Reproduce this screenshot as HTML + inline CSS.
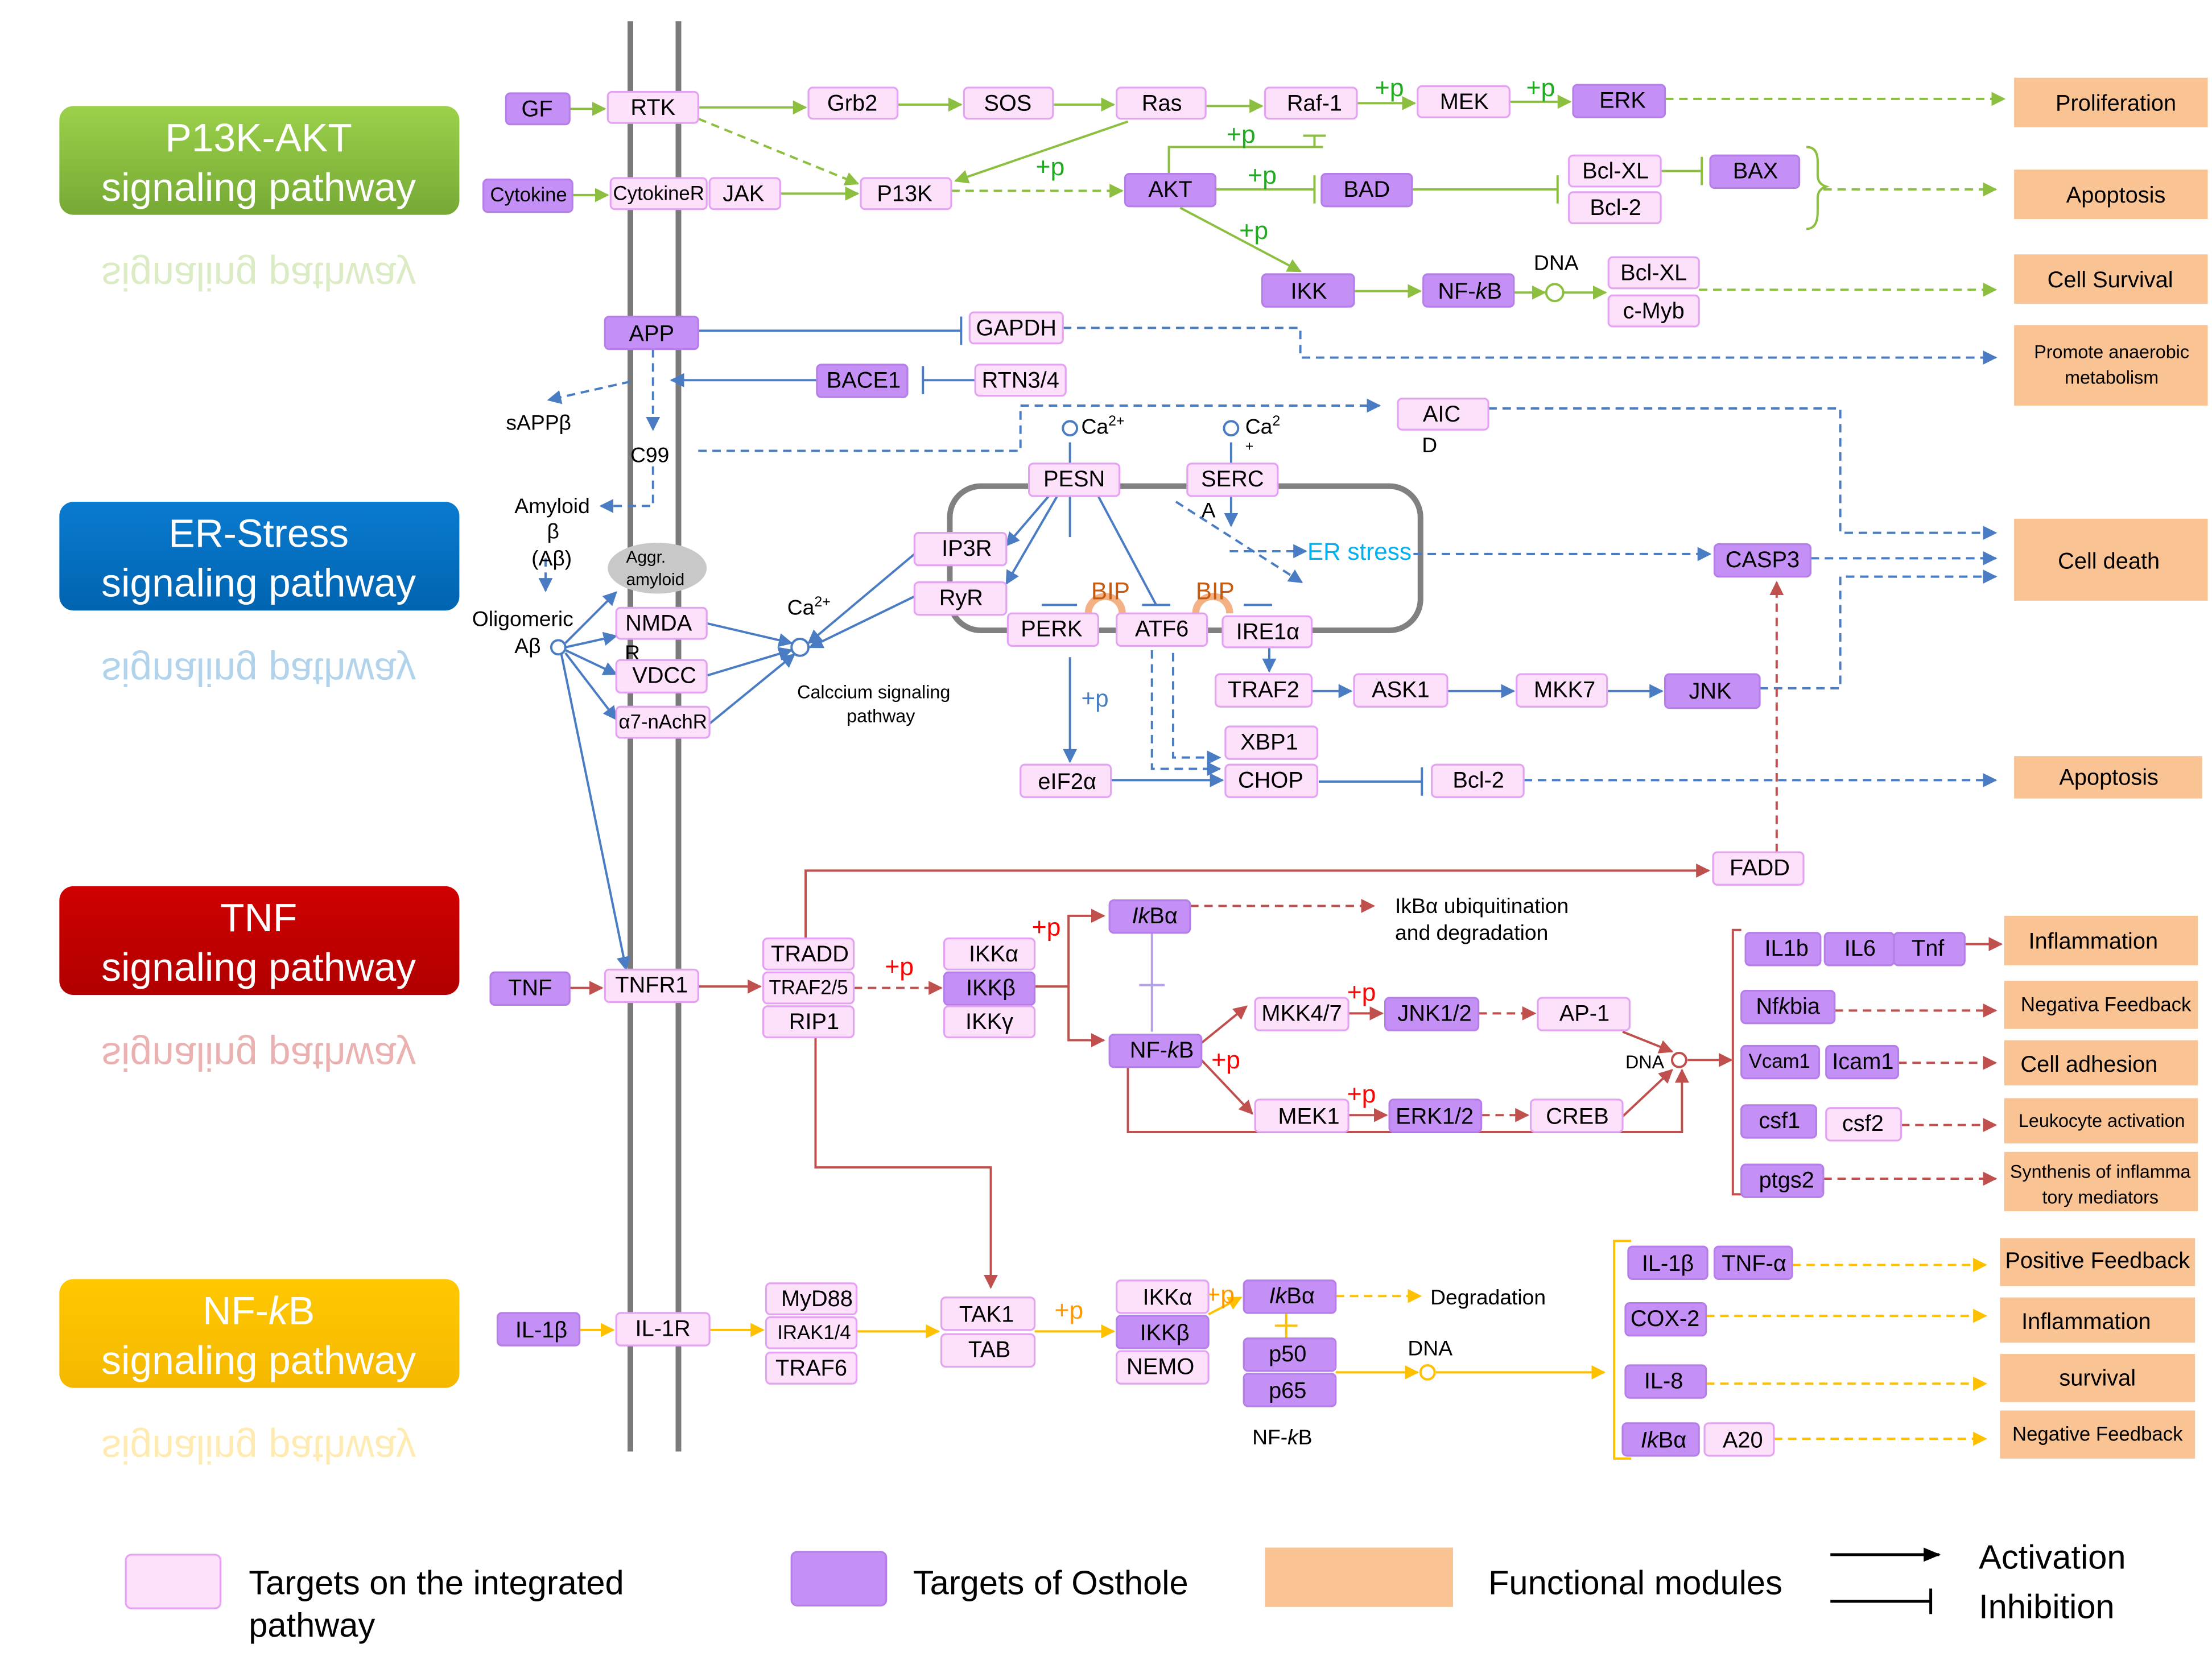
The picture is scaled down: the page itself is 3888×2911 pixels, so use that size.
<!DOCTYPE html>
<html><head><meta charset="utf-8"><style>
html,body{margin:0;padding:0;background:#fff}
svg{display:block}
text{font-family:"Liberation Sans",sans-serif;fill:#000}
.p{fill:#fde0f9;stroke:#e3a3f2;stroke-width:1.3}
.o{fill:#c490f5;stroke:#b57ee8;stroke-width:1.3}
.f{fill:#f9c394}
.t{font-size:16px;text-anchor:middle;dominant-baseline:central}
.g{stroke:#8cbf3f;stroke-width:1.6;fill:none}
.b{stroke:#4a7cc4;stroke-width:1.6;fill:none}
.r{stroke:#c0504d;stroke-width:1.6;fill:none}
.y{stroke:#ffc000;stroke-width:1.6;fill:none}
.d{stroke-dasharray:6 4}
</style></head><body>
<svg width="3888" height="2911" viewBox="0 0 1565 1171.7" preserveAspectRatio="none">
<defs>
<marker id="mg" markerWidth="10" markerHeight="10" refX="9" refY="5" orient="auto" markerUnits="userSpaceOnUse"><path d="M0,0L10,5L0,10z" fill="#8cbf3f"/></marker>
<marker id="mb" markerWidth="10" markerHeight="10" refX="9" refY="5" orient="auto" markerUnits="userSpaceOnUse"><path d="M0,0L10,5L0,10z" fill="#4a7cc4"/></marker>
<marker id="mr" markerWidth="10" markerHeight="10" refX="9" refY="5" orient="auto" markerUnits="userSpaceOnUse"><path d="M0,0L10,5L0,10z" fill="#c0504d"/></marker>
<marker id="my" markerWidth="10" markerHeight="10" refX="9" refY="5" orient="auto" markerUnits="userSpaceOnUse"><path d="M0,0L10,5L0,10z" fill="#ffc000"/></marker>
<marker id="mk" markerWidth="12" markerHeight="10" refX="11" refY="5" orient="auto" markerUnits="userSpaceOnUse"><path d="M0,0L12,5L0,10z" fill="#000"/></marker>
<linearGradient id="gg" x1="0" y1="0" x2="0" y2="1"><stop offset="0" stop-color="#9bd14a"/><stop offset="1" stop-color="#76a935"/></linearGradient>
<linearGradient id="gb" x1="0" y1="0" x2="0" y2="1"><stop offset="0" stop-color="#0a7bd0"/><stop offset="1" stop-color="#0064b0"/></linearGradient>
<linearGradient id="gr" x1="0" y1="0" x2="0" y2="1"><stop offset="0" stop-color="#d00000"/><stop offset="1" stop-color="#b00000"/></linearGradient>
<linearGradient id="gy" x1="0" y1="0" x2="0" y2="1"><stop offset="0" stop-color="#ffc800"/><stop offset="1" stop-color="#f5b800"/></linearGradient>
</defs>

<g font-size="28" text-anchor="middle">
<rect x="42" y="75" width="283" height="77" rx="10" fill="url(#gg)"/>
<text x="183" y="107" style="fill:#fff">P13K-AKT</text><text x="183" y="142" style="fill:#fff">signaling pathway</text>
<text x="183" y="186" style="fill:#8cbf3f;opacity:.3" transform="translate(0,372) scale(1,-1)">signaling pathway</text>
<rect x="42" y="355" width="283" height="77" rx="10" fill="url(#gb)"/>
<text x="183" y="387" style="fill:#fff">ER-Stress</text><text x="183" y="422" style="fill:#fff">signaling pathway</text>
<text x="183" y="466" style="fill:#0070c0;opacity:.3" transform="translate(0,932) scale(1,-1)">signaling pathway</text>
<rect x="42" y="627" width="283" height="77" rx="10" fill="url(#gr)"/>
<text x="183" y="659" style="fill:#fff">TNF</text><text x="183" y="694" style="fill:#fff">signaling pathway</text>
<text x="183" y="738" style="fill:#c00000;opacity:.3" transform="translate(0,1476) scale(1,-1)">signaling pathway</text>
<rect x="42" y="905" width="283" height="77" rx="10" fill="url(#gy)"/>
<text x="183" y="937" style="fill:#fff">NF-<tspan font-style="italic">k</tspan>B</text><text x="183" y="972" style="fill:#fff">signaling pathway</text>
<text x="183" y="1016" style="fill:#ffc000;opacity:.3" transform="translate(0,2032) scale(1,-1)">signaling pathway</text>
</g>

<line x1="446" y1="15" x2="446" y2="1027" stroke="#7a7a7a" stroke-width="4"/>
<line x1="480" y1="15" x2="480" y2="1027" stroke="#7a7a7a" stroke-width="4"/>
<rect x="672" y="344" width="333" height="102" rx="22" fill="none" stroke="#808080" stroke-width="4"/>

<g class="g" marker-end="url(#mg)">
<line x1="403" y1="77" x2="428" y2="77"/><line x1="494" y1="76" x2="570" y2="76"/>
<line x1="635" y1="74" x2="680" y2="74"/><line x1="745" y1="74" x2="788" y2="74"/>
<line x1="853" y1="75" x2="893" y2="75"/><line x1="960" y1="73" x2="1001" y2="73"/>
<line x1="1068" y1="72" x2="1111" y2="72"/>
<line x1="405" y1="138" x2="430" y2="138"/><line x1="552" y1="137" x2="607" y2="137"/>
<line x1="798" y1="86" x2="676" y2="128"/>
<line x1="835" y1="147" x2="920" y2="192"/>
<line x1="958" y1="206" x2="1005" y2="206"/>
<line x1="1071" y1="207" x2="1093" y2="207"/><line x1="1106" y1="207" x2="1136" y2="207"/>
</g>
<g class="g d" marker-end="url(#mg)">
<line x1="494" y1="84" x2="607" y2="130"/><line x1="673" y1="135" x2="794" y2="135"/>
<line x1="1178" y1="70" x2="1418" y2="70"/>
<line x1="1290" y1="134" x2="1412" y2="134"/>
<line x1="1202" y1="205" x2="1412" y2="205"/>
</g>
<g class="g">
<circle cx="1100" cy="207" r="6" fill="#fff"/>
<polyline points="827,123 827,104 936,104"/><line x1="922" y1="96" x2="938" y2="96"/><line x1="930" y1="96" x2="930" y2="104"/>
<line x1="860" y1="134" x2="930" y2="134"/><line x1="930" y1="124" x2="930" y2="144"/>
<line x1="999" y1="134" x2="1102" y2="134"/><line x1="1102" y1="124" x2="1102" y2="144"/>
<line x1="1175" y1="121" x2="1204" y2="121"/><line x1="1204" y1="111" x2="1204" y2="131"/>
<path d="M1278,104 q8,0 8,10 v10 q0,6 6,8 q-6,2 -6,8 v10 q0,12 -8,12"/>
</g>
<g font-size="18" text-anchor="middle">
<text x="983" y="68" style="fill:#22aa22">+p</text><text x="1090" y="68" style="fill:#22aa22">+p</text>
<text x="878" y="101" style="fill:#22aa22">+p</text><text x="743" y="124" style="fill:#22aa22">+p</text>
<text x="893" y="130" style="fill:#22aa22">+p</text><text x="887" y="169" style="fill:#22aa22">+p</text>
</g>
<text x="1101" y="191" font-size="15" text-anchor="middle">DNA</text>

<g class="b">
<line x1="494" y1="234" x2="680" y2="234"/><line x1="680" y1="224" x2="680" y2="244"/>
<line x1="690" y1="269" x2="653" y2="269"/><line x1="653" y1="259" x2="653" y2="279"/>
<line x1="757" y1="328" x2="757" y2="313"/><circle cx="757" cy="303" r="5" fill="#fff"/>
<line x1="871" y1="328" x2="871" y2="313"/><circle cx="871" cy="303" r="5" fill="#fff"/>
<line x1="757" y1="351" x2="757" y2="380"/>
<line x1="777" y1="351" x2="818" y2="428"/>
<line x1="737" y1="428" x2="762" y2="428"/><line x1="808" y1="428" x2="828" y2="428"/><line x1="880" y1="428" x2="900" y2="428"/>
<line x1="933" y1="553" x2="1006" y2="553"/><line x1="1006" y1="543" x2="1006" y2="563"/>
<circle cx="566" cy="458" r="6" fill="#fff"/>
</g>
<g class="b" marker-end="url(#mb)">
<line x1="578" y1="269" x2="475" y2="269"/>
<line x1="871" y1="351" x2="871" y2="372"/>
<line x1="742" y1="351" x2="712" y2="386"/><line x1="748" y1="351" x2="712" y2="413"/>
<line x1="647" y1="392" x2="572" y2="455"/><line x1="647" y1="422" x2="573" y2="458"/>
<line x1="500" y1="441" x2="560" y2="455"/><line x1="500" y1="478" x2="560" y2="460"/><line x1="502" y1="512" x2="562" y2="463"/>
<line x1="400" y1="455" x2="436" y2="419"/><line x1="400" y1="458" x2="436" y2="450"/><line x1="400" y1="460" x2="436" y2="477"/><line x1="400" y1="462" x2="436" y2="509"/>
<line x1="397" y1="462" x2="443" y2="686"/>
<line x1="928" y1="489" x2="956" y2="489"/><line x1="1024" y1="489" x2="1071" y2="489"/><line x1="1137" y1="489" x2="1176" y2="489"/>
<line x1="757" y1="465" x2="757" y2="539"/>
<line x1="786" y1="552" x2="865" y2="552"/>
<line x1="898" y1="458" x2="898" y2="475"/>
</g>
<circle cx="395" cy="458" r="5" fill="#fff" stroke="#4a7cc4" stroke-width="1.6"/>
<g class="b d" marker-end="url(#mb)">
<polyline points="752,232 920,232 920,253 1412,253"/>
<polyline points="494,319 722,319 722,287 976,287"/>
<polyline points="1053,289 1302,289 1302,377 1412,377"/>
<polyline points="1281,395 1412,395"/>
<polyline points="1245,487 1302,487 1302,408 1412,408"/>
<polyline points="870,390 924,390"/>
<polyline points="1000,392 1210,392"/>
<polyline points="1078,552 1412,552"/>
<polyline points="462,247 462,304"/>
<polyline points="446,270 388,283"/>
<polyline points="462,330 462,358 425,358"/>
<polyline points="386,395 386,418"/>
<polyline points="832,355 921,412"/>
<polyline points="815,460 815,544 863,544"/>
<polyline points="830,462 830,536 863,536"/>
</g>
<text x="765" y="500" font-size="17" style="fill:#4a7cc4">+p</text>
<text x="925" y="396" font-size="17" style="fill:#00b0f0">ER stress</text>
<g font-size="15">
<text x="765" y="307">Ca<tspan font-size="10" dy="-6">2+</tspan></text>
<text x="881" y="307">Ca<tspan font-size="10" dy="-6">2</tspan></text><text x="881" y="319" font-size="10">+</text>
<text x="557" y="435">Ca<tspan font-size="10" dy="-6">2+</tspan></text>
<text x="358" y="304">sAPPβ</text><text x="446" y="327">C99</text>
<text x="364" y="363">Amyloid</text><text x="387" y="381">β</text><text x="376" y="400">(Aβ)</text>
<text x="334" y="443">Oligomeric</text><text x="364" y="462">Aβ</text>
<text x="442" y="467">R</text>
<text x="1006" y="320">D</text><text x="850" y="366">A</text>
<text x="564" y="494" font-size="13">Calccium signaling</text><text x="599" y="511" font-size="13">pathway</text>
</g>
<ellipse cx="465" cy="402" rx="35" ry="18" fill="#c8c8c8"/>
<text x="443" y="398" font-size="12">Aggr.</text><text x="443" y="414" font-size="12">amyloid</text>
<g fill="none" stroke="#f4b183" stroke-width="5"><path d="M770,434 a12,12 0 0 1 24,0"/><path d="M846,434 a12,12 0 0 1 24,0"/></g>
<text x="772" y="424" font-size="17" style="fill:#c55a11">BIP</text><text x="846" y="424" font-size="17" style="fill:#c55a11">BIP</text>

<g class="r" marker-end="url(#mr)">
<line x1="403" y1="699" x2="426" y2="699"/><line x1="494" y1="698" x2="538" y2="698"/>
<polyline points="570,664 570,616 1209,616"/>
<polyline points="577,734 577,826 701,826 701,911"/>
<polyline points="732,698 756,698 756,648 781,648"/>
<polyline points="756,698 756,736 781,736"/>
<line x1="850" y1="738" x2="882" y2="712"/><line x1="850" y1="750" x2="886" y2="788"/>
<line x1="954" y1="717" x2="978" y2="717"/><line x1="954" y1="789" x2="981" y2="789"/>
<line x1="1148" y1="730" x2="1183" y2="744"/><line x1="1148" y1="790" x2="1183" y2="757"/>
<polyline points="798,755 798,801 1190,801 1190,757"/>
<line x1="1194" y1="750" x2="1225" y2="750"/>
<line x1="1390" y1="668" x2="1416" y2="668"/>
</g>
<g class="r d" marker-end="url(#mr)">
<line x1="604" y1="699" x2="666" y2="699"/>
<line x1="842" y1="641" x2="972" y2="641"/>
<line x1="1046" y1="717" x2="1086" y2="717"/><line x1="1048" y1="789" x2="1081" y2="789"/>
<line x1="1298" y1="715" x2="1412" y2="715"/><line x1="1343" y1="752" x2="1412" y2="752"/>
<line x1="1345" y1="796" x2="1412" y2="796"/><line x1="1290" y1="834" x2="1412" y2="834"/>
<line x1="1257" y1="603" x2="1257" y2="412"/>
</g>
<g class="r">
<circle cx="1188" cy="750" r="5" fill="#fff"/>
<polyline points="1232,658 1226,658 1226,845 1232,845"/>
</g>
<g stroke="#b4a0e6" stroke-width="1.6"><line x1="815" y1="660" x2="815" y2="730"/><line x1="806" y1="697" x2="824" y2="697"/></g>
<g font-size="18"><text x="626" y="690" style="fill:#f00">+p</text><text x="730" y="662" style="fill:#f00">+p</text><text x="857" y="756" style="fill:#f00">+p</text><text x="953" y="708" style="fill:#f00">+p</text><text x="953" y="780" style="fill:#f00">+p</text></g>
<text x="987" y="646" font-size="15">IkBα ubiquitination</text><text x="987" y="665" font-size="15">and degradation</text>
<text x="1150" y="756" font-size="13">DNA</text>

<g class="y" marker-end="url(#my)">
<line x1="410" y1="941" x2="434" y2="941"/><line x1="502" y1="941" x2="540" y2="941"/>
<line x1="606" y1="942" x2="664" y2="942"/><line x1="732" y1="942" x2="788" y2="942"/>
<line x1="855" y1="930" x2="878" y2="918"/>
<line x1="945" y1="971" x2="1003" y2="971"/><line x1="1016" y1="971" x2="1135" y2="971"/>
</g>
<g class="y d" marker-end="url(#my)">
<line x1="945" y1="917" x2="1005" y2="917"/>
<line x1="1268" y1="895" x2="1405" y2="895"/><line x1="1207" y1="931" x2="1405" y2="931"/>
<line x1="1207" y1="979" x2="1405" y2="979"/><line x1="1255" y1="1018" x2="1405" y2="1018"/>
</g>
<g class="y"><circle cx="1010" cy="971" r="5" fill="#fff"/><polyline points="1154,878 1142,878 1142,1032 1154,1032"/>
<line x1="910" y1="929" x2="910" y2="947"/><line x1="902" y1="938" x2="918" y2="938"/></g>
<text x="746" y="933" font-size="18" style="fill:#ff9900">+p</text><text x="853" y="922" font-size="18" style="fill:#ff9900">+p</text>
<text x="1012" y="923" font-size="15">Degradation</text><text x="996" y="959" font-size="15">DNA</text>
<text x="886" y="1022" font-size="15">NF-<tspan font-style="italic">k</tspan>B</text>

<g>
<rect class="o" x="358" y="66" width="45" height="22" rx="3"/><text class="t" x="380" y="77">GF</text>
<rect class="p" x="430" y="65" width="64" height="22" rx="3"/><text class="t" x="462" y="76">RTK</text>
<rect class="p" x="572" y="62" width="63" height="22" rx="3"/><text class="t" x="603" y="73">Grb2</text>
<rect class="p" x="682" y="62" width="63" height="22" rx="3"/><text class="t" x="713" y="73">SOS</text>
<rect class="p" x="790" y="62" width="63" height="22" rx="3"/><text class="t" x="822" y="73">Ras</text>
<rect class="p" x="895" y="62" width="65" height="22" rx="3"/><text class="t" x="930" y="73">Raf-1</text>
<rect class="p" x="1003" y="61" width="65" height="22" rx="3"/><text class="t" x="1036" y="72">MEK</text>
<rect class="o" x="1113" y="60" width="65" height="23" rx="3"/><text class="t" x="1148" y="71">ERK</text>
<rect class="o" x="342" y="127" width="63" height="23" rx="3"/><text class="t" x="374" y="138" style="font-size:14px">Cytokine</text>
<rect class="p" x="432" y="126" width="68" height="22" rx="3"/><text class="t" x="466" y="137" style="font-size:14px">CytokineR</text>
<rect class="p" x="502" y="126" width="50" height="22" rx="3"/><text class="t" x="526" y="137">JAK</text>
<rect class="p" x="609" y="126" width="64" height="22" rx="3"/><text class="t" x="640" y="137">P13K</text>
<rect class="o" x="796" y="123" width="64" height="23" rx="3"/><text class="t" x="828" y="134">AKT</text>
<rect class="o" x="935" y="123" width="64" height="23" rx="3"/><text class="t" x="967" y="134">BAD</text>
<rect class="p" x="1110" y="110" width="65" height="22" rx="3"/><text class="t" x="1143" y="121">Bcl-XL</text>
<rect class="p" x="1110" y="136" width="65" height="22" rx="3"/><text class="t" x="1143" y="147">Bcl-2</text>
<rect class="o" x="1210" y="110" width="63" height="23" rx="3"/><text class="t" x="1242" y="121">BAX</text>
<rect class="o" x="893" y="194" width="65" height="23" rx="3"/><text class="t" x="926" y="206">IKK</text>
<rect class="o" x="1007" y="194" width="64" height="23" rx="3"/><text class="t" x="1040" y="206">NF-<tspan font-style="italic">k</tspan>B</text>
<rect class="p" x="1138" y="182" width="64" height="22" rx="3"/><text class="t" x="1170" y="193">Bcl-XL</text>
<rect class="p" x="1138" y="209" width="64" height="22" rx="3"/><text class="t" x="1170" y="220">c-Myb</text>
<rect class="o" x="428" y="224" width="66" height="23" rx="3"/><text class="t" x="461" y="236">APP</text>
<rect class="p" x="686" y="221" width="66" height="22" rx="3"/><text class="t" x="719" y="232">GAPDH</text>
<rect class="o" x="578" y="258" width="64" height="23" rx="3"/><text class="t" x="611" y="269">BACE1</text>
<rect class="p" x="690" y="258" width="64" height="22" rx="3"/><text class="t" x="722" y="269">RTN3/4</text>
<rect class="p" x="989" y="282" width="64" height="22" rx="3"/><text class="t" x="1020" y="293">AIC</text>
<rect class="p" x="728" y="328" width="64" height="23" rx="3"/><text class="t" x="760" y="339">PESN</text>
<rect class="p" x="840" y="328" width="64" height="23" rx="3"/><text class="t" x="872" y="339">SERC</text>
<rect class="p" x="647" y="377" width="65" height="23" rx="3"/><text class="t" x="684" y="388">IP3R</text>
<rect class="p" x="647" y="412" width="65" height="23" rx="3"/><text class="t" x="680" y="423">RyR</text>
<rect class="p" x="713" y="434" width="64" height="23" rx="3"/><text class="t" x="744" y="445">PERK</text>
<rect class="p" x="790" y="434" width="64" height="23" rx="3"/><text class="t" x="822" y="445">ATF6</text>
<rect class="p" x="865" y="436" width="63" height="22" rx="3"/><text class="t" x="897" y="447">IRE1α</text>
<rect class="o" x="1213" y="385" width="68" height="23" rx="3"/><text class="t" x="1247" y="396">CASP3</text>
<rect class="p" x="436" y="430" width="64" height="22" rx="3"/><text class="t" x="466" y="441">NMDA</text>
<rect class="p" x="436" y="467" width="64" height="23" rx="3"/><text class="t" x="470" y="478">VDCC</text>
<rect class="p" x="436" y="500" width="66" height="22" rx="3"/><text class="t" x="469" y="511" style="font-size:14px">α7-nAchR</text>
<rect class="p" x="860" y="477" width="68" height="23" rx="3"/><text class="t" x="894" y="488">TRAF2</text>
<rect class="p" x="958" y="477" width="66" height="23" rx="3"/><text class="t" x="991" y="488">ASK1</text>
<rect class="p" x="1073" y="477" width="64" height="23" rx="3"/><text class="t" x="1107" y="488">MKK7</text>
<rect class="o" x="1178" y="477" width="67" height="24" rx="3"/><text class="t" x="1210" y="489">JNK</text>
<rect class="p" x="867" y="514" width="65" height="23" rx="3"/><text class="t" x="898" y="525">XBP1</text>
<rect class="p" x="867" y="541" width="65" height="23" rx="3"/><text class="t" x="899" y="552">CHOP</text>
<rect class="p" x="722" y="541" width="64" height="23" rx="3"/><text class="t" x="755" y="553">eIF2α</text>
<rect class="p" x="1013" y="541" width="65" height="23" rx="3"/><text class="t" x="1046" y="552">Bcl-2</text>
<rect class="p" x="1212" y="603" width="64" height="23" rx="3"/><text class="t" x="1245" y="614">FADD</text>
<rect class="o" x="347" y="688" width="56" height="23" rx="3"/><text class="t" x="375" y="699">TNF</text>
<rect class="p" x="428" y="686" width="66" height="23" rx="3"/><text class="t" x="461" y="697">TNFR1</text>
<rect class="p" x="540" y="664" width="64" height="22" rx="3"/><text class="t" x="573" y="675">TRADD</text>
<rect class="p" x="540" y="688" width="64" height="22" rx="3"/><text class="t" x="572" y="699" style="font-size:14px">TRAF2/5</text>
<rect class="p" x="540" y="712" width="64" height="22" rx="3"/><text class="t" x="576" y="723">RIP1</text>
<rect class="p" x="668" y="664" width="64" height="22" rx="3"/><text class="t" x="703" y="675">IKKα</text>
<rect class="o" x="668" y="688" width="64" height="23" rx="3"/><text class="t" x="701" y="699">IKKβ</text>
<rect class="p" x="668" y="712" width="64" height="22" rx="3"/><text class="t" x="700" y="723">IKKγ</text>
<rect class="o" x="785" y="637" width="57" height="23" rx="3"/><text class="t" x="817" y="648"><tspan font-style="italic">Ik</tspan>Bα</text>
<rect class="o" x="785" y="732" width="65" height="23" rx="3"/><text class="t" x="822" y="743">NF-<tspan font-style="italic">k</tspan>B</text>
<rect class="p" x="888" y="706" width="66" height="23" rx="3"/><text class="t" x="921" y="717">MKK4/7</text>
<rect class="o" x="980" y="706" width="66" height="23" rx="3"/><text class="t" x="1015" y="717">JNK1/2</text>
<rect class="p" x="1088" y="706" width="65" height="23" rx="3"/><text class="t" x="1121" y="717">AP-1</text>
<rect class="p" x="888" y="778" width="66" height="23" rx="3"/><text class="t" x="926" y="790">MEK1</text>
<rect class="o" x="983" y="778" width="65" height="23" rx="3"/><text class="t" x="1015" y="790">ERK1/2</text>
<rect class="p" x="1083" y="778" width="65" height="23" rx="3"/><text class="t" x="1116" y="790">CREB</text>
<rect class="o" x="1235" y="660" width="53" height="23" rx="3"/><text class="t" x="1264" y="671">IL1b</text>
<rect class="o" x="1291" y="660" width="49" height="23" rx="3"/><text class="t" x="1316" y="671">IL6</text>
<rect class="o" x="1340" y="660" width="50" height="23" rx="3"/><text class="t" x="1364" y="671">Tnf</text>
<rect class="o" x="1232" y="701" width="66" height="23" rx="3"/><text class="t" x="1265" y="712">Nf<tspan font-style="italic">k</tspan>bia</text>
<rect class="o" x="1232" y="740" width="55" height="23" rx="3"/><text class="t" x="1259" y="751" style="font-size:14px">Vcam1</text>
<rect class="o" x="1292" y="740" width="51" height="23" rx="3"/><text class="t" x="1318" y="751">Icam1</text>
<rect class="o" x="1232" y="782" width="53" height="23" rx="3"/><text class="t" x="1259" y="793">csf1</text>
<rect class="p" x="1292" y="784" width="53" height="23" rx="3"/><text class="t" x="1318" y="795">csf2</text>
<rect class="o" x="1232" y="824" width="58" height="23" rx="3"/><text class="t" x="1264" y="835">ptgs2</text>
<rect class="o" x="352" y="929" width="58" height="23" rx="3"/><text class="t" x="383" y="941">IL-1β</text>
<rect class="p" x="436" y="929" width="66" height="23" rx="3"/><text class="t" x="469" y="940">IL-1R</text>
<rect class="p" x="542" y="908" width="64" height="22" rx="3"/><text class="t" x="578" y="919">MyD88</text>
<rect class="p" x="542" y="932" width="64" height="22" rx="3"/><text class="t" x="576" y="943" style="font-size:14px">IRAK1/4</text>
<rect class="p" x="542" y="957" width="64" height="22" rx="3"/><text class="t" x="574" y="968">TRAF6</text>
<rect class="p" x="666" y="918" width="66" height="23" rx="3"/><text class="t" x="698" y="930">TAK1</text>
<rect class="p" x="666" y="944" width="66" height="23" rx="3"/><text class="t" x="700" y="955">TAB</text>
<rect class="p" x="790" y="906" width="65" height="23" rx="3"/><text class="t" x="826" y="918">IKKα</text>
<rect class="o" x="790" y="931" width="65" height="23" rx="3"/><text class="t" x="824" y="943">IKKβ</text>
<rect class="p" x="790" y="956" width="65" height="23" rx="3"/><text class="t" x="821" y="967">NEMO</text>
<rect class="o" x="880" y="906" width="65" height="23" rx="3"/><text class="t" x="914" y="917"><tspan font-style="italic">Ik</tspan>Bα</text>
<rect class="o" x="880" y="947" width="65" height="23" rx="3"/><text class="t" x="911" y="958">p50</text>
<rect class="o" x="880" y="972" width="65" height="23" rx="3"/><text class="t" x="911" y="984">p65</text>
<rect class="o" x="1152" y="882" width="56" height="23" rx="3"/><text class="t" x="1180" y="894">IL-1β</text>
<rect class="o" x="1213" y="882" width="55" height="23" rx="3"/><text class="t" x="1241" y="894">TNF-α</text>
<rect class="o" x="1150" y="922" width="57" height="23" rx="3"/><text class="t" x="1178" y="933">COX-2</text>
<rect class="o" x="1150" y="966" width="57" height="23" rx="3"/><text class="t" x="1177" y="977">IL-8</text>
<rect class="o" x="1148" y="1007" width="54" height="23" rx="3"/><text class="t" x="1177" y="1019"><tspan font-style="italic">Ik</tspan>Bα</text>
<rect class="p" x="1206" y="1007" width="49" height="23" rx="3"/><text class="t" x="1233" y="1019">A20</text>
</g>

<g>
<rect class="f" x="1425" y="55" width="137" height="35"/><text class="t" x="1497" y="73">Proliferation</text>
<rect class="f" x="1425" y="120" width="137" height="35"/><text class="t" x="1497" y="138">Apoptosis</text>
<rect class="f" x="1425" y="180" width="137" height="35"/><text class="t" x="1493" y="198">Cell Survival</text>
<rect class="f" x="1425" y="230" width="137" height="57"/><text class="t" x="1494" y="249" style="font-size:13px">Promote anaerobic</text><text class="t" x="1494" y="267" style="font-size:13px">metabolism</text>
<rect class="f" x="1425" y="367" width="137" height="58"/><text class="t" x="1492" y="397">Cell death</text>
<rect class="f" x="1425" y="535" width="133" height="30"/><text class="t" x="1492" y="550">Apoptosis</text>
<rect class="f" x="1418" y="648" width="137" height="35"/><text class="t" x="1481" y="666">Inflammation</text>
<rect class="f" x="1418" y="694" width="137" height="34"/><text class="t" x="1490" y="711" style="font-size:14px">Negativa Feedback</text>
<rect class="f" x="1418" y="736" width="137" height="32"/><text class="t" x="1478" y="753">Cell adhesion</text>
<rect class="f" x="1418" y="777" width="137" height="32"/><text class="t" x="1487" y="793" style="font-size:13px">Leukocyte activation</text>
<rect class="f" x="1418" y="815" width="137" height="42"/><text class="t" x="1486" y="829" style="font-size:13px">Synthenis of inflamma</text><text class="t" x="1486" y="847" style="font-size:13px">tory mediators</text>
<rect class="f" x="1415" y="876" width="138" height="34"/><text class="t" x="1484" y="892">Positive Feedback</text>
<rect class="f" x="1415" y="918" width="138" height="32"/><text class="t" x="1476" y="935">Inflammation</text>
<rect class="f" x="1415" y="958" width="138" height="34"/><text class="t" x="1484" y="975">survival</text>
<rect class="f" x="1415" y="998" width="138" height="34"/><text class="t" x="1484" y="1015" style="font-size:14px">Negative Feedback</text>
</g>

<rect class="p" x="89" y="1100" width="67" height="38" rx="4"/>
<text x="176" y="1128" font-size="24">Targets on the integrated</text><text x="176" y="1158" font-size="24">pathway</text>
<rect class="o" x="560" y="1098" width="67" height="38" rx="4"/>
<text x="646" y="1128" font-size="24">Targets of Osthole</text>
<rect class="f" x="895" y="1095" width="133" height="42"/>
<text x="1053" y="1128" font-size="24">Functional modules</text>
<line x1="1295" y1="1100" x2="1372" y2="1100" stroke="#000" stroke-width="2" marker-end="url(#mk)"/>
<line x1="1295" y1="1133" x2="1366" y2="1133" stroke="#000" stroke-width="2"/><line x1="1366" y1="1124" x2="1366" y2="1142" stroke="#000" stroke-width="2"/>
<text x="1400" y="1110" font-size="24">Activation</text><text x="1400" y="1145" font-size="24">Inhibition</text>
</svg>
</body></html>
